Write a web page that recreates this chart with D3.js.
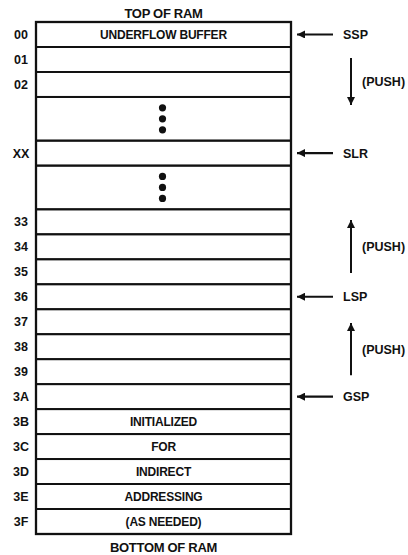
<!DOCTYPE html>
<html><head><meta charset="utf-8">
<script src="https://cdn.jsdelivr.net/npm/d3@7"></script>
<style>
html,body{margin:0;padding:0;background:#fff;}
text{font-family:"Liberation Sans",Arial,sans-serif;font-weight:bold;fill:#111;}
</style></head>
<body><svg id="c" width="408" height="555"></svg>
<script>
// Memory rows, top to bottom
const addresses = ["00","01","02","","XX","","33","34","35","36","37","38","39","3A","3B","3C","3D","3E","3F"];
const contents  = ["UNDERFLOW BUFFER","","","•","","•","","","","","","","","","INITIALIZED","FOR","INDIRECT","ADDRESSING","(AS NEEDED)"];
const rowUnits  = [1,1,1,1.75,1,1.75,1,1,1,1,1,1,1,1,1,1,1,1,1];
// Pointers
const pointerNames = ["SSP","SLR","LSP","GSP"];
const pointerRows  = ["00","XX","36","3A"];
// Push arrows (in row-unit coordinates): start, end
const pushStart = [1.44, 10.05, 14.14];
const pushEnd   = [3.32, 7.93, 12.05];
const pushLabel = ["(PUSH)","(PUSH)","(PUSH)"];
const titleTop = "TOP OF RAM";
const titleBottom = "BOTTOM OF RAM";

const svg = d3.select("#c");
const total = d3.sum(rowUnits);
const starts = d3.cumsum([0, ...rowUnits]);
const y = d3.scaleLinear().domain([0,total]).range([22,534]);
const x = d3.scaleLinear().domain([0,1]).range([36,291]);

const defs = svg.append("defs");
defs.append("marker").attr("id","ah").attr("viewBox","0 0 10 10").attr("refX",10).attr("refY",5)
  .attr("markerWidth",11).attr("markerHeight",8).attr("markerUnits","userSpaceOnUse").attr("orient","auto")
  .append("path").attr("d","M0,0L10,5L0,10Z").attr("fill","#111");

const rows = addresses.map((a,i)=>({a, c:contents[i], y0:starts[i], y1:starts[i+1]}));

// row boxes
svg.append("g").selectAll("rect").data(rows).join("rect")
  .attr("x",x(0)).attr("y",d=>y(d.y0)).attr("width",x(1)-x(0)).attr("height",d=>y(d.y1)-y(d.y0))
  .attr("fill","none").attr("stroke","#111").attr("stroke-width",1.9);
svg.append("rect").attr("x",x(0)).attr("y",y(0)).attr("width",x(1)-x(0)).attr("height",y(total)-y(0))
  .attr("fill","none").attr("stroke","#111").attr("stroke-width",2.3);

// address labels
svg.append("g").selectAll("text").data(rows.filter(d=>d.a)).join("text")
  .attr("x",21).attr("y",d=>y((d.y0+d.y1)/2)).attr("dy","0.36em").attr("text-anchor","middle")
  .attr("font-size",12.5).text(d=>d.a);

// contents
svg.append("g").selectAll("text").data(rows.filter(d=>d.c && d.c!=="•")).join("text")
  .attr("x",x(0.5)).attr("y",d=>y((d.y0+d.y1)/2)).attr("dy","0.36em").attr("text-anchor","middle")
  .attr("font-size",12).attr("letter-spacing",-0.2).text(d=>d.c);

// vertical ellipsis dots
const dotRows = rows.filter(d=>d.c==="•");
dotRows.forEach(d=>{
  const cy = y((d.y0+d.y1)/2);
  [-11,0,11].forEach(o=>svg.append("circle").attr("cx",x(0.5)-1).attr("cy",cy+o).attr("r",3.6).attr("fill","#111"));
});

// pointer arrows
const byAddr = new Map(rows.map(d=>[d.a,d]));
pointerNames.forEach((n,i)=>{
  const r = byAddr.get(pointerRows[i]);
  const cy = y((r.y0+r.y1)/2);
  svg.append("line").attr("x1",333).attr("x2",x(1)+6).attr("y1",cy).attr("y2",cy)
    .attr("stroke","#111").attr("stroke-width",2.2).attr("marker-end","url(#ah)");
  svg.append("text").attr("x",343).attr("y",cy).attr("dy","0.36em").attr("font-size",12.5).text(n);
});

// push arrows
pushStart.forEach((s,i)=>{
  svg.append("line").attr("x1",351).attr("x2",351).attr("y1",y(s)).attr("y2",y(pushEnd[i]))
    .attr("stroke","#111").attr("stroke-width",2).attr("marker-end","url(#ah)");
  svg.append("text").attr("x",362).attr("y",y((s+pushEnd[i])/2)).attr("dy","0.36em")
    .attr("font-size",12.5).text(pushLabel[i]);
});

// titles
svg.append("text").attr("x",x(0.5)).attr("y",13).attr("dy","0.36em").attr("text-anchor","middle")
  .attr("font-size",13).attr("letter-spacing",-0.3).text(titleTop);
svg.append("text").attr("x",x(0.5)).attr("y",547).attr("dy","0.36em").attr("text-anchor","middle")
  .attr("font-size",13).attr("letter-spacing",-0.3).text(titleBottom);
</script></body></html>
